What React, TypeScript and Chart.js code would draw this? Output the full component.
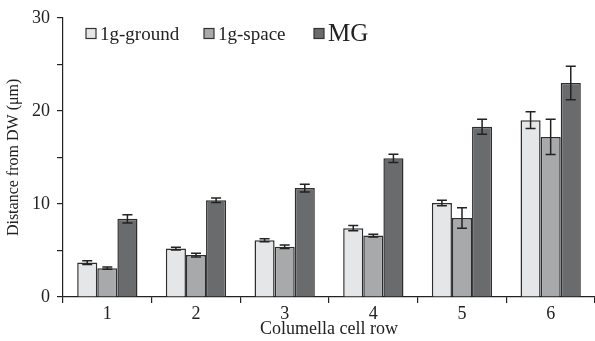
import React, { useEffect, useRef } from "react";
import { Chart, registerables } from "chart.js";

Chart.register(...registerables);

const categories = ["1", "2", "3", "4", "5", "6"];
const seriesNames = ["1g-ground", "1g-space", "MG"];
const groundValues = [3.7, 5.2, 6.1, 7.4, 10.1, 19.0];
const groundErrors = [0.2, 0.15, 0.15, 0.27, 0.3, 0.9];
const spaceValues = [3.1, 4.5, 5.4, 6.6, 8.5, 17.2];
const spaceErrors = [0.12, 0.2, 0.2, 0.15, 1.1, 1.9];
const mgValues = [8.4, 10.4, 11.7, 14.9, 18.3, 23.0];
const mgErrors = [0.45, 0.25, 0.41, 0.45, 0.8, 1.8];
const yTickLabels = [0, 10, 20, 30];

const FONT = "'Liberation Serif', 'Times New Roman', serif";
const colors = ["#e5e6e8", "#a8a9ab", "#6a6b6d"];

const errorBarPlugin = {
  id: "errorBars",
  afterDatasetsDraw(chart: any) {
    const ctx = chart.ctx;
    const y = chart.scales.y;
    ctx.save();
    ctx.strokeStyle = "#222";
    ctx.lineWidth = 1.5;
    chart.data.datasets.forEach((ds: any, di: number) => {
      const meta = chart.getDatasetMeta(di);
      meta.data.forEach((bar: any, i: number) => {
        const v = ds.data[i];
        const e = ds.errors[i];
        const top = y.getPixelForValue(v + e);
        const bot = y.getPixelForValue(v - e);
        const x = bar.x;
        const cap = 5;
        ctx.beginPath();
        ctx.moveTo(x, top);
        ctx.lineTo(x, bot);
        ctx.moveTo(x - cap, top);
        ctx.lineTo(x + cap, top);
        ctx.moveTo(x - cap, bot);
        ctx.lineTo(x + cap, bot);
        ctx.stroke();
      });
    });
    ctx.restore();
  },
};

const legendPlugin = {
  id: "customLegend",
  afterDraw(chart: any) {
    const ctx = chart.ctx;
    const items = [
      { x: 86, size: 19 },
      { x: 204, size: 19 },
      { x: 314, size: 25 },
    ];
    ctx.save();
    chart.data.datasets.forEach((ds: any, i: number) => {
      const it = items[i];
      const boxY = 28.5;
      ctx.fillStyle = ds.backgroundColor;
      ctx.strokeStyle = "#333";
      ctx.lineWidth = 1.2;
      ctx.fillRect(it.x, boxY, 10, 10);
      ctx.strokeRect(it.x, boxY, 10, 10);
      ctx.fillStyle = "#222";
      ctx.font = `${it.size}px ${FONT}`;
      ctx.textBaseline = "alphabetic";
      ctx.textAlign = "left";
      ctx.fillText(ds.label, it.x + 14, i === 2 ? 40.5 : 39.5);
    });
    ctx.restore();
  },
};

export default function App() {
  const canvasRef = useRef<HTMLCanvasElement | null>(null);

  useEffect(() => {
    if (!canvasRef.current) return;
    const values = [groundValues, spaceValues, mgValues];
    const errors = [groundErrors, spaceErrors, mgErrors];
    const chart = new Chart(canvasRef.current, {
      type: "bar",
      data: {
        labels: categories,
        datasets: seriesNames.map((name, i) => ({
          label: name,
          data: values[i],
          errors: errors[i],
          backgroundColor: colors[i],
          borderColor: "#2e2e2e",
          borderWidth: 1.5,
          categoryPercentage: 0.68,
          barPercentage: 1.0,
        })) as any,
      },
      options: {
        responsive: false,
        animation: false,
        layout: { padding: { top: 17, right: 0, left: 0, bottom: 0 } },
        plugins: {
          legend: { display: false },
          tooltip: { enabled: false },
        },
        scales: {
          x: {
            offset: true,
            grid: {
              offset: true,
              display: true,
              drawOnChartArea: false,
              drawTicks: true,
              tickLength: 6,
              color: "#222",
              lineWidth: 1.2,
            },
            border: { display: true, color: "#222", width: 1.2 },
            ticks: {
              color: "#222",
              font: { family: FONT, size: 18 },
              padding: 0,
            },
            title: {
              display: true,
              text: "Columella cell row",
              color: "#222",
              font: { family: FONT, size: 18 },
              padding: { top: 0, bottom: 1 },
            },
            afterFit: (s: any) => {
              s.height = 44;
            },
          },
          y: {
            min: 0,
            max: 30,
            ticks: {
              stepSize: 5,
              color: "#222",
              font: { family: FONT, size: 18 },
              padding: 7,
              callback: (v: any) =>
                yTickLabels.includes(Number(v)) ? String(v) : "",
            },
            grid: {
              display: true,
              drawOnChartArea: false,
              drawTicks: true,
              tickLength: 6,
              color: "#222",
              lineWidth: 1.2,
            },
            border: { display: true, color: "#222", width: 1.2 },
            title: {
              display: true,
              text: "Distance from DW (μm)",
              color: "#222",
              font: { family: FONT, size: 16 },
              padding: { top: 4, bottom: 4 },
            },
            afterFit: (s: any) => {
              s.width = 63;
            },
          },
        },
      },
      plugins: [errorBarPlugin, legendPlugin],
    });
    return () => chart.destroy();
  }, []);

  return (
    <div style={{ position: "fixed", left: 0, top: 0, width: 595, height: 341, background: "#fff" }}>
      <canvas ref={canvasRef} width={595} height={341} style={{ width: 595, height: 341 }} />
    </div>
  );
}
